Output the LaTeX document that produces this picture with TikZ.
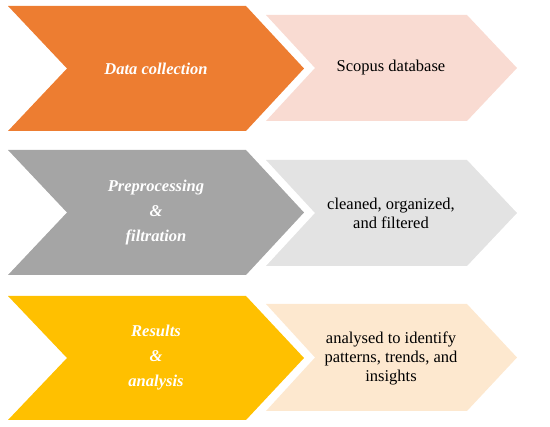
\documentclass[tikz,border=0pt]{standalone}
\usepackage{fontspec}
\setmainfont{Liberation Serif}
\definecolor{corange}{HTML}{ED7D31}
\definecolor{cgray}{HTML}{A5A5A5}
\definecolor{cgold}{HTML}{FFC000}
\definecolor{lorange}{HTML}{F9DBD2}
\definecolor{lgray}{HTML}{E3E3E3}
\definecolor{lgold}{HTML}{FDE8CF}
\tikzset{
  bigtxt/.style={text=white,font=\fontsize{16.5}{25}\selectfont\bfseries\itshape,align=center},
  smalltxt/.style={text=black,font=\fontsize{16.5}{19}\selectfont,align=center},
}
\begin{document}
\begin{tikzpicture}[x=1pt,y=-1pt]
\useasboundingbox (0,0) rectangle (550,427);
% row 1
\fill[corange] (8,6) -- (246,6) -- (304,68.5) -- (246,131) -- (8,131) -- (67,68.5) -- cycle;
\fill[lorange] (266,15) -- (467,15) -- (517,68) -- (467,121) -- (266,121) -- (315,68) -- cycle;
\node[bigtxt] (t1) at (156,68.5) {Data collection};
\node[smalltxt] (s1) at (391,68) {Scopus database};
% row 2
\fill[cgray] (8,150) -- (246,150) -- (304,212.5) -- (246,275) -- (8,275) -- (67,212.5) -- cycle;
\fill[lgray] (266,160) -- (467,160) -- (517,213) -- (467,266) -- (266,266) -- (315,213) -- cycle;
\node[bigtxt] (t2) at (156,212.5) {Preprocessing\\\&\\filtration};
\node[smalltxt] (s2) at (391,213) {cleaned, organized,\\and filtered};
% row 3
\fill[cgold] (8,296) -- (246,296) -- (304,358) -- (246,420) -- (8,420) -- (67,358) -- cycle;
\fill[lgold] (266,304) -- (467,304) -- (517,357.5) -- (467,411) -- (266,411) -- (315,357.5) -- cycle;
\node[bigtxt] (t3) at (156,358) {Results\\\&\\analysis};
\node[smalltxt] (s3) at (391,358) {analysed to identify\\patterns, trends, and\\insights};
\end{tikzpicture}
\end{document}
